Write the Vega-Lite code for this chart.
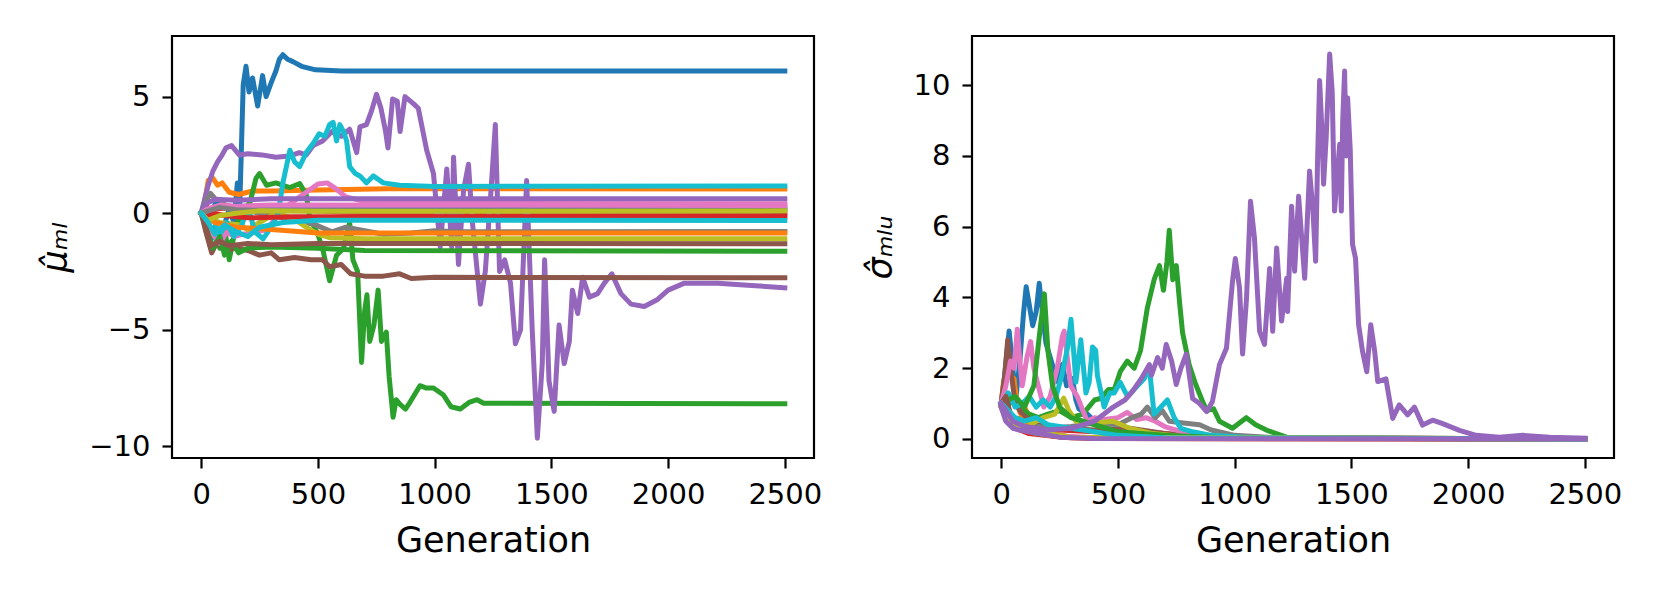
{
  "$schema": "https://vega.github.io/schema/vega-lite/v6.json",
  "background": "white",
  "padding": {"left": 37, "top": 34, "right": 40, "bottom": 10},
  "spacing": 158,
  "bounds": "flush",
  "config": {
    "view": {"stroke": "black", "strokeWidth": 2.2},
    "font": "DejaVu Sans",
    "axis": {
      "grid": false,
      "domain": false,
      "tickColor": "black",
      "tickWidth": 2.2,
      "tickSize": 10,
      "labelFont": "DejaVu Sans",
      "labelFontSize": 29,
      "labelColor": "black",
      "labelPadding": 12,
      "titleFont": "DejaVu Sans",
      "titleFontSize": 35,
      "titleFontWeight": "normal",
      "titleColor": "black"
    }
  },
  "datasets": {
    "mu": [
      {"r":"r00","g":0,"v":0},{"r":"r00","g":20,"v":-0.3},{"r":"r00","g":40,"v":-1.2},{"r":"r00","g":60,"v":-0.6},{"r":"r00","g":80,"v":-1.3},{"r":"r00","g":100,"v":-0.5},{"r":"r00","g":120,"v":0.2},{"r":"r00","g":140,"v":-0.4},{"r":"r00","g":155,"v":1.3},{"r":"r00","g":165,"v":0.2},{"r":"r00","g":180,"v":5.5},{"r":"r00","g":192,"v":6.3},{"r":"r00","g":205,"v":5.2},{"r":"r00","g":220,"v":5.8},{"r":"r00","g":242,"v":4.6},{"r":"r00","g":263,"v":5.9},{"r":"r00","g":278,"v":5.0},{"r":"r00","g":300,"v":5.6},{"r":"r00","g":320,"v":6.1},{"r":"r00","g":335,"v":6.6},{"r":"r00","g":350,"v":6.8},{"r":"r00","g":370,"v":6.6},{"r":"r00","g":393,"v":6.5},{"r":"r00","g":430,"v":6.3},{"r":"r00","g":490,"v":6.15},{"r":"r00","g":600,"v":6.1},{"r":"r00","g":2500,"v":6.1},
      {"r":"r01","g":0,"v":0},{"r":"r01","g":15,"v":0.5},{"r":"r01","g":30,"v":1.4},{"r":"r01","g":50,"v":1.5},{"r":"r01","g":70,"v":1.2},{"r":"r01","g":90,"v":1.3},{"r":"r01","g":120,"v":0.9},{"r":"r01","g":160,"v":0.8},{"r":"r01","g":220,"v":0.95},{"r":"r01","g":300,"v":0.95},{"r":"r01","g":500,"v":1.0},{"r":"r01","g":800,"v":1.05},{"r":"r01","g":2500,"v":1.04},
      {"r":"r02","g":0,"v":0},{"r":"r02","g":20,"v":-0.4},{"r":"r02","g":50,"v":-0.8},{"r":"r02","g":80,"v":-1.5},{"r":"r02","g":100,"v":-0.6},{"r":"r02","g":120,"v":-2.0},{"r":"r02","g":140,"v":-1.0},{"r":"r02","g":160,"v":-0.3},{"r":"r02","g":190,"v":0.2},{"r":"r02","g":210,"v":0.5},{"r":"r02","g":235,"v":1.5},{"r":"r02","g":250,"v":1.7},{"r":"r02","g":280,"v":1.2},{"r":"r02","g":320,"v":1.3},{"r":"r02","g":380,"v":1.1},{"r":"r02","g":422,"v":1.27},{"r":"r02","g":450,"v":0.8},{"r":"r02","g":465,"v":-0.2},{"r":"r02","g":500,"v":-0.9},{"r":"r02","g":522,"v":-1.6},{"r":"r02","g":550,"v":-2.9},{"r":"r02","g":580,"v":-1.8},{"r":"r02","g":610,"v":-1.5},{"r":"r02","g":636,"v":-0.4},{"r":"r02","g":650,"v":-2.0},{"r":"r02","g":670,"v":-2.5},{"r":"r02","g":687,"v":-6.4},{"r":"r02","g":700,"v":-4.2},{"r":"r02","g":710,"v":-3.5},{"r":"r02","g":722,"v":-5.5},{"r":"r02","g":740,"v":-4.8},{"r":"r02","g":758,"v":-3.3},{"r":"r02","g":772,"v":-5.5},{"r":"r02","g":793,"v":-5.1},{"r":"r02","g":805,"v":-7.0},{"r":"r02","g":822,"v":-8.75},{"r":"r02","g":835,"v":-8.0},{"r":"r02","g":852,"v":-8.2},{"r":"r02","g":875,"v":-8.4},{"r":"r02","g":895,"v":-8.1},{"r":"r02","g":937,"v":-7.4},{"r":"r02","g":965,"v":-7.5},{"r":"r02","g":995,"v":-7.5},{"r":"r02","g":1038,"v":-7.8},{"r":"r02","g":1070,"v":-8.3},{"r":"r02","g":1110,"v":-8.4},{"r":"r02","g":1150,"v":-8.1},{"r":"r02","g":1182,"v":-8.0},{"r":"r02","g":1210,"v":-8.15},{"r":"r02","g":2500,"v":-8.17},
      {"r":"r03","g":0,"v":0},{"r":"r03","g":20,"v":0.3},{"r":"r03","g":40,"v":0.15},{"r":"r03","g":80,"v":0.2},{"r":"r03","g":150,"v":0.25},{"r":"r03","g":250,"v":0.2},{"r":"r03","g":400,"v":0.15},{"r":"r03","g":600,"v":0.05},{"r":"r03","g":900,"v":-0.02},{"r":"r03","g":2500,"v":-0.05},
      {"r":"r04","g":0,"v":0},{"r":"r04","g":15,"v":0.6},{"r":"r04","g":30,"v":1.2},{"r":"r04","g":50,"v":1.8},{"r":"r04","g":70,"v":2.2},{"r":"r04","g":90,"v":2.5},{"r":"r04","g":106,"v":2.8},{"r":"r04","g":130,"v":2.9},{"r":"r04","g":163,"v":2.5},{"r":"r04","g":200,"v":2.55},{"r":"r04","g":260,"v":2.5},{"r":"r04","g":320,"v":2.4},{"r":"r04","g":378,"v":2.45},{"r":"r04","g":420,"v":2.6},{"r":"r04","g":450,"v":2.5},{"r":"r04","g":480,"v":2.9},{"r":"r04","g":520,"v":3.1},{"r":"r04","g":560,"v":3.5},{"r":"r04","g":600,"v":3.3},{"r":"r04","g":636,"v":3.6},{"r":"r04","g":666,"v":2.6},{"r":"r04","g":680,"v":3.7},{"r":"r04","g":708,"v":3.8},{"r":"r04","g":730,"v":4.4},{"r":"r04","g":751,"v":5.1},{"r":"r04","g":770,"v":4.5},{"r":"r04","g":790,"v":3.5},{"r":"r04","g":800,"v":2.8},{"r":"r04","g":820,"v":4.9},{"r":"r04","g":840,"v":4.8},{"r":"r04","g":852,"v":3.5},{"r":"r04","g":873,"v":5.0},{"r":"r04","g":909,"v":4.7},{"r":"r04","g":930,"v":4.5},{"r":"r04","g":966,"v":2.7},{"r":"r04","g":995,"v":1.7},{"r":"r04","g":1024,"v":-1.45},{"r":"r04","g":1052,"v":1.9},{"r":"r04","g":1073,"v":-1.45},{"r":"r04","g":1081,"v":2.4},{"r":"r04","g":1102,"v":-2.2},{"r":"r04","g":1124,"v":1.0},{"r":"r04","g":1145,"v":2.1},{"r":"r04","g":1160,"v":-0.2},{"r":"r04","g":1196,"v":-3.9},{"r":"r04","g":1217,"v":-2.5},{"r":"r04","g":1239,"v":0.6},{"r":"r04","g":1260,"v":3.8},{"r":"r04","g":1278,"v":-2.5},{"r":"r04","g":1300,"v":-2.0},{"r":"r04","g":1325,"v":-3.0},{"r":"r04","g":1346,"v":-5.6},{"r":"r04","g":1368,"v":-5.0},{"r":"r04","g":1394,"v":1.4},{"r":"r04","g":1418,"v":-5.0},{"r":"r04","g":1440,"v":-9.65},{"r":"r04","g":1461,"v":-6.45},{"r":"r04","g":1471,"v":-2.0},{"r":"r04","g":1490,"v":-7.2},{"r":"r04","g":1512,"v":-8.5},{"r":"r04","g":1533,"v":-4.8},{"r":"r04","g":1555,"v":-6.45},{"r":"r04","g":1577,"v":-5.5},{"r":"r04","g":1590,"v":-3.3},{"r":"r04","g":1613,"v":-4.3},{"r":"r04","g":1634,"v":-2.75},{"r":"r04","g":1663,"v":-3.6},{"r":"r04","g":1698,"v":-3.45},{"r":"r04","g":1727,"v":-3.0},{"r":"r04","g":1759,"v":-2.6},{"r":"r04","g":1798,"v":-3.45},{"r":"r04","g":1841,"v":-3.9},{"r":"r04","g":1898,"v":-4.0},{"r":"r04","g":1955,"v":-3.7},{"r":"r04","g":2000,"v":-3.3},{"r":"r04","g":2070,"v":-3.0},{"r":"r04","g":2213,"v":-3.0},{"r":"r04","g":2357,"v":-3.1},{"r":"r04","g":2500,"v":-3.2},
      {"r":"r05","g":0,"v":0},{"r":"r05","g":20,"v":-0.8},{"r":"r05","g":45,"v":-1.7},{"r":"r05","g":70,"v":-1.2},{"r":"r05","g":100,"v":-1.6},{"r":"r05","g":150,"v":-1.5},{"r":"r05","g":200,"v":-1.6},{"r":"r05","g":250,"v":-1.8},{"r":"r05","g":300,"v":-1.7},{"r":"r05","g":335,"v":-2.0},{"r":"r05","g":400,"v":-1.9},{"r":"r05","g":470,"v":-2.0},{"r":"r05","g":520,"v":-2.0},{"r":"r05","g":550,"v":-2.3},{"r":"r05","g":600,"v":-2.2},{"r":"r05","g":640,"v":-2.6},{"r":"r05","g":700,"v":-2.7},{"r":"r05","g":780,"v":-2.7},{"r":"r05","g":850,"v":-2.6},{"r":"r05","g":900,"v":-2.8},{"r":"r05","g":1000,"v":-2.75},{"r":"r05","g":2500,"v":-2.77},
      {"r":"r06","g":0,"v":0},{"r":"r06","g":20,"v":-0.5},{"r":"r06","g":50,"v":-0.9},{"r":"r06","g":80,"v":-1.3},{"r":"r06","g":110,"v":-0.8},{"r":"r06","g":140,"v":-1.0},{"r":"r06","g":180,"v":-0.9},{"r":"r06","g":240,"v":-0.8},{"r":"r06","g":280,"v":-0.7},{"r":"r06","g":320,"v":-0.2},{"r":"r06","g":380,"v":0.4},{"r":"r06","g":450,"v":0.9},{"r":"r06","g":500,"v":1.25},{"r":"r06","g":540,"v":1.3},{"r":"r06","g":570,"v":1.1},{"r":"r06","g":620,"v":0.7},{"r":"r06","g":700,"v":0.5},{"r":"r06","g":800,"v":0.42},{"r":"r06","g":2500,"v":0.4},
      {"r":"r07","g":0,"v":0},{"r":"r07","g":20,"v":0.5},{"r":"r07","g":40,"v":0.85},{"r":"r07","g":70,"v":0.5},{"r":"r07","g":120,"v":0.3},{"r":"r07","g":200,"v":0.1},{"r":"r07","g":300,"v":-0.1},{"r":"r07","g":400,"v":-0.3},{"r":"r07","g":490,"v":-0.5},{"r":"r07","g":560,"v":-0.8},{"r":"r07","g":620,"v":-0.6},{"r":"r07","g":700,"v":-0.75},{"r":"r07","g":780,"v":-0.9},{"r":"r07","g":900,"v":-0.85},{"r":"r07","g":1000,"v":-0.75},{"r":"r07","g":1100,"v":-0.8},{"r":"r07","g":2500,"v":-0.78},
      {"r":"r08","g":0,"v":0},{"r":"r08","g":30,"v":-0.2},{"r":"r08","g":80,"v":-0.4},{"r":"r08","g":160,"v":-0.5},{"r":"r08","g":200,"v":-0.7},{"r":"r08","g":250,"v":-0.4},{"r":"r08","g":320,"v":0.0},{"r":"r08","g":390,"v":-0.2},{"r":"r08","g":450,"v":-0.6},{"r":"r08","g":500,"v":-0.9},{"r":"r08","g":550,"v":-1.05},{"r":"r08","g":700,"v":-1.1},{"r":"r08","g":2500,"v":-1.1},
      {"r":"r09","g":0,"v":0},{"r":"r09","g":20,"v":-0.5},{"r":"r09","g":50,"v":-0.2},{"r":"r09","g":80,"v":-0.9},{"r":"r09","g":110,"v":-0.4},{"r":"r09","g":140,"v":-1.0},{"r":"r09","g":175,"v":-0.5},{"r":"r09","g":200,"v":0.3},{"r":"r09","g":230,"v":-0.8},{"r":"r09","g":265,"v":-1.1},{"r":"r09","g":300,"v":-0.6},{"r":"r09","g":330,"v":0.0},{"r":"r09","g":350,"v":1.3},{"r":"r09","g":365,"v":2.0},{"r":"r09","g":380,"v":2.7},{"r":"r09","g":400,"v":2.2},{"r":"r09","g":422,"v":2.0},{"r":"r09","g":450,"v":2.6},{"r":"r09","g":480,"v":3.0},{"r":"r09","g":505,"v":3.4},{"r":"r09","g":530,"v":3.3},{"r":"r09","g":550,"v":3.8},{"r":"r09","g":565,"v":3.9},{"r":"r09","g":580,"v":3.1},{"r":"r09","g":594,"v":3.8},{"r":"r09","g":610,"v":3.5},{"r":"r09","g":623,"v":3.1},{"r":"r09","g":636,"v":2.0},{"r":"r09","g":660,"v":1.7},{"r":"r09","g":680,"v":1.6},{"r":"r09","g":708,"v":1.3},{"r":"r09","g":737,"v":1.6},{"r":"r09","g":780,"v":1.3},{"r":"r09","g":850,"v":1.2},{"r":"r09","g":1000,"v":1.15},{"r":"r09","g":2500,"v":1.17},
      {"r":"r10","g":0,"v":0},{"r":"r10","g":15,"v":0.3},{"r":"r10","g":35,"v":-0.2},{"r":"r10","g":60,"v":0.4},{"r":"r10","g":100,"v":0.3},{"r":"r10","g":200,"v":0.25},{"r":"r10","g":400,"v":0.2},{"r":"r10","g":2500,"v":0.2},
      {"r":"r11","g":0,"v":0},{"r":"r11","g":20,"v":-0.2},{"r":"r11","g":60,"v":-0.4},{"r":"r11","g":150,"v":-0.6},{"r":"r11","g":300,"v":-0.7},{"r":"r11","g":500,"v":-0.85},{"r":"r11","g":800,"v":-0.85},{"r":"r11","g":2500,"v":-0.85},
      {"r":"r12","g":0,"v":0},{"r":"r12","g":20,"v":-0.6},{"r":"r12","g":50,"v":-1.5},{"r":"r12","g":80,"v":-1.0},{"r":"r12","g":100,"v":-1.8},{"r":"r12","g":130,"v":-1.2},{"r":"r12","g":160,"v":-1.7},{"r":"r12","g":200,"v":-1.5},{"r":"r12","g":300,"v":-1.45},{"r":"r12","g":500,"v":-1.5},{"r":"r12","g":700,"v":-1.6},{"r":"r12","g":2500,"v":-1.63},
      {"r":"r13","g":0,"v":0},{"r":"r13","g":20,"v":-0.2},{"r":"r13","g":50,"v":0.0},{"r":"r13","g":100,"v":-0.1},{"r":"r13","g":200,"v":-0.2},{"r":"r13","g":400,"v":-0.15},{"r":"r13","g":2500,"v":-0.15},
      {"r":"r14","g":0,"v":0},{"r":"r14","g":20,"v":0.4},{"r":"r14","g":60,"v":0.6},{"r":"r14","g":150,"v":0.55},{"r":"r14","g":300,"v":0.62},{"r":"r14","g":2500,"v":0.62},
      {"r":"r15","g":0,"v":0},{"r":"r15","g":20,"v":-0.6},{"r":"r15","g":40,"v":-1.4},{"r":"r15","g":80,"v":-1.2},{"r":"r15","g":120,"v":-1.4},{"r":"r15","g":200,"v":-1.3},{"r":"r15","g":300,"v":-1.35},{"r":"r15","g":500,"v":-1.3},{"r":"r15","g":2500,"v":-1.31},
      {"r":"r16","g":0,"v":0},{"r":"r16","g":30,"v":0.2},{"r":"r16","g":80,"v":0.35},{"r":"r16","g":150,"v":0.3},{"r":"r16","g":300,"v":0.35},{"r":"r16","g":2500,"v":0.33},
      {"r":"r17","g":0,"v":0},{"r":"r17","g":30,"v":0.1},{"r":"r17","g":80,"v":0.25},{"r":"r17","g":150,"v":0.15},{"r":"r17","g":300,"v":0.1},{"r":"r17","g":2500,"v":0.1},
      {"r":"r18","g":0,"v":0},{"r":"r18","g":30,"v":-0.3},{"r":"r18","g":80,"v":-0.1},{"r":"r18","g":150,"v":0.0},{"r":"r18","g":250,"v":0.1},{"r":"r18","g":500,"v":0.08},{"r":"r18","g":2500,"v":0.1},
      {"r":"r19","g":0,"v":0},{"r":"r19","g":30,"v":-0.4},{"r":"r19","g":60,"v":-0.9},{"r":"r19","g":100,"v":-0.5},{"r":"r19","g":150,"v":-0.8},{"r":"r19","g":200,"v":-1.0},{"r":"r19","g":250,"v":-0.6},{"r":"r19","g":350,"v":-0.4},{"r":"r19","g":500,"v":-0.3},{"r":"r19","g":2500,"v":-0.31}
    ],
    "sigma": [
      {"r":"r00","g":0,"v":1.0},{"r":"r00","g":15,"v":1.8},{"r":"r00","g":34,"v":3.05},{"r":"r00","g":50,"v":2.0},{"r":"r00","g":62,"v":1.1},{"r":"r00","g":80,"v":2.2},{"r":"r00","g":95,"v":3.5},{"r":"r00","g":107,"v":4.3},{"r":"r00","g":120,"v":3.8},{"r":"r00","g":135,"v":3.2},{"r":"r00","g":150,"v":3.6},{"r":"r00","g":163,"v":4.4},{"r":"r00","g":178,"v":3.5},{"r":"r00","g":192,"v":2.7},{"r":"r00","g":210,"v":2.3},{"r":"r00","g":228,"v":1.9},{"r":"r00","g":245,"v":1.6},{"r":"r00","g":262,"v":2.1},{"r":"r00","g":280,"v":1.5},{"r":"r00","g":305,"v":1.7},{"r":"r00","g":320,"v":1.1},{"r":"r00","g":333,"v":0.85},{"r":"r00","g":370,"v":0.7},{"r":"r00","g":400,"v":0.5},{"r":"r00","g":450,"v":0.3},{"r":"r00","g":550,"v":0.15},{"r":"r00","g":700,"v":0.05},{"r":"r00","g":900,"v":0.01},{"r":"r00","g":2500,"v":0},
      {"r":"r01","g":0,"v":1.0},{"r":"r01","g":10,"v":1.6},{"r":"r01","g":25,"v":1.9},{"r":"r01","g":40,"v":1.8},{"r":"r01","g":55,"v":1.7},{"r":"r01","g":64,"v":1.2},{"r":"r01","g":80,"v":0.75},{"r":"r01","g":100,"v":0.9},{"r":"r01","g":130,"v":0.5},{"r":"r01","g":170,"v":0.4},{"r":"r01","g":220,"v":0.15},{"r":"r01","g":300,"v":0.05},{"r":"r01","g":500,"v":0.01},{"r":"r01","g":2500,"v":0},
      {"r":"r02","g":0,"v":1.0},{"r":"r02","g":20,"v":0.8},{"r":"r02","g":50,"v":1.2},{"r":"r02","g":80,"v":0.9},{"r":"r02","g":120,"v":0.7},{"r":"r02","g":160,"v":0.6},{"r":"r02","g":200,"v":0.7},{"r":"r02","g":250,"v":0.8},{"r":"r02","g":300,"v":0.6},{"r":"r02","g":350,"v":0.7},{"r":"r02","g":400,"v":1.1},{"r":"r02","g":428,"v":1.15},{"r":"r02","g":460,"v":1.4},{"r":"r02","g":485,"v":1.4},{"r":"r02","g":510,"v":1.9},{"r":"r02","g":540,"v":2.2},{"r":"r02","g":570,"v":2.0},{"r":"r02","g":597,"v":2.5},{"r":"r02","g":626,"v":3.7},{"r":"r02","g":655,"v":4.5},{"r":"r02","g":678,"v":4.9},{"r":"r02","g":695,"v":4.2},{"r":"r02","g":710,"v":5.0},{"r":"r02","g":720,"v":5.9},{"r":"r02","g":735,"v":4.5},{"r":"r02","g":750,"v":4.9},{"r":"r02","g":765,"v":3.8},{"r":"r02","g":777,"v":3.0},{"r":"r02","g":805,"v":2.1},{"r":"r02","g":830,"v":1.6},{"r":"r02","g":860,"v":1.1},{"r":"r02","g":880,"v":0.8},{"r":"r02","g":910,"v":0.85},{"r":"r02","g":935,"v":0.5},{"r":"r02","g":991,"v":0.3},{"r":"r02","g":1050,"v":0.6},{"r":"r02","g":1090,"v":0.4},{"r":"r02","g":1136,"v":0.25},{"r":"r02","g":1222,"v":0.05},{"r":"r02","g":1400,"v":0.02},{"r":"r02","g":2500,"v":0},
      {"r":"r03","g":0,"v":1.0},{"r":"r03","g":20,"v":0.6},{"r":"r03","g":40,"v":0.4},{"r":"r03","g":80,"v":0.3},{"r":"r03","g":150,"v":0.35},{"r":"r03","g":250,"v":0.25},{"r":"r03","g":400,"v":0.2},{"r":"r03","g":550,"v":0.25},{"r":"r03","g":700,"v":0.15},{"r":"r03","g":850,"v":0.05},{"r":"r03","g":1000,"v":0.01},{"r":"r03","g":2500,"v":0},
      {"r":"r05","g":0,"v":1.0},{"r":"r05","g":15,"v":1.8},{"r":"r05","g":28,"v":2.8},{"r":"r05","g":40,"v":2.0},{"r":"r05","g":60,"v":1.0},{"r":"r05","g":90,"v":0.7},{"r":"r05","g":150,"v":0.4},{"r":"r05","g":250,"v":0.3},{"r":"r05","g":400,"v":0.25},{"r":"r05","g":550,"v":0.3},{"r":"r05","g":700,"v":0.15},{"r":"r05","g":900,"v":0.05},{"r":"r05","g":1200,"v":0.01},{"r":"r05","g":2500,"v":0},
      {"r":"r06","g":0,"v":1.0},{"r":"r06","g":20,"v":1.5},{"r":"r06","g":40,"v":2.2},{"r":"r06","g":55,"v":2.0},{"r":"r06","g":69,"v":3.1},{"r":"r06","g":80,"v":2.2},{"r":"r06","g":90,"v":1.5},{"r":"r06","g":110,"v":2.3},{"r":"r06","g":126,"v":2.75},{"r":"r06","g":140,"v":2.0},{"r":"r06","g":155,"v":1.6},{"r":"r06","g":183,"v":0.9},{"r":"r06","g":210,"v":1.2},{"r":"r06","g":240,"v":2.0},{"r":"r06","g":262,"v":2.9},{"r":"r06","g":270,"v":3.05},{"r":"r06","g":285,"v":2.2},{"r":"r06","g":298,"v":1.5},{"r":"r06","g":326,"v":1.2},{"r":"r06","g":350,"v":0.8},{"r":"r06","g":369,"v":0.5},{"r":"r06","g":400,"v":0.6},{"r":"r06","g":440,"v":0.55},{"r":"r06","g":500,"v":0.6},{"r":"r06","g":540,"v":0.75},{"r":"r06","g":580,"v":0.55},{"r":"r06","g":620,"v":0.6},{"r":"r06","g":660,"v":0.5},{"r":"r06","g":700,"v":0.35},{"r":"r06","g":800,"v":0.15},{"r":"r06","g":1000,"v":0.03},{"r":"r06","g":2500,"v":0},
      {"r":"r07","g":0,"v":1.0},{"r":"r07","g":20,"v":0.8},{"r":"r07","g":60,"v":0.5},{"r":"r07","g":120,"v":0.4},{"r":"r07","g":200,"v":0.3},{"r":"r07","g":300,"v":0.35},{"r":"r07","g":400,"v":0.45},{"r":"r07","g":500,"v":0.4},{"r":"r07","g":560,"v":0.6},{"r":"r07","g":600,"v":0.7},{"r":"r07","g":626,"v":0.9},{"r":"r07","g":660,"v":0.6},{"r":"r07","g":690,"v":0.8},{"r":"r07","g":720,"v":0.5},{"r":"r07","g":780,"v":0.45},{"r":"r07","g":850,"v":0.4},{"r":"r07","g":900,"v":0.25},{"r":"r07","g":1000,"v":0.1},{"r":"r07","g":1200,"v":0.02},{"r":"r07","g":2500,"v":0},
      {"r":"r08","g":0,"v":1.0},{"r":"r08","g":20,"v":0.7},{"r":"r08","g":60,"v":0.5},{"r":"r08","g":120,"v":0.4},{"r":"r08","g":180,"v":0.6},{"r":"r08","g":230,"v":0.7},{"r":"r08","g":268,"v":1.15},{"r":"r08","g":290,"v":0.8},{"r":"r08","g":320,"v":0.5},{"r":"r08","g":400,"v":0.45},{"r":"r08","g":480,"v":0.5},{"r":"r08","g":550,"v":0.3},{"r":"r08","g":650,"v":0.15},{"r":"r08","g":800,"v":0.05},{"r":"r08","g":2500,"v":0},
      {"r":"r09","g":0,"v":1.0},{"r":"r09","g":30,"v":1.3},{"r":"r09","g":60,"v":0.9},{"r":"r09","g":90,"v":1.0},{"r":"r09","g":120,"v":1.2},{"r":"r09","g":150,"v":0.9},{"r":"r09","g":180,"v":1.1},{"r":"r09","g":210,"v":0.9},{"r":"r09","g":235,"v":1.2},{"r":"r09","g":260,"v":1.8},{"r":"r09","g":285,"v":2.6},{"r":"r09","g":299,"v":3.38},{"r":"r09","g":310,"v":2.5},{"r":"r09","g":320,"v":1.6},{"r":"r09","g":341,"v":2.8},{"r":"r09","g":363,"v":1.3},{"r":"r09","g":377,"v":1.6},{"r":"r09","g":391,"v":2.6},{"r":"r09","g":405,"v":2.5},{"r":"r09","g":412,"v":1.8},{"r":"r09","g":441,"v":0.9},{"r":"r09","g":465,"v":1.3},{"r":"r09","g":484,"v":1.3},{"r":"r09","g":510,"v":1.6},{"r":"r09","g":541,"v":1.2},{"r":"r09","g":584,"v":1.5},{"r":"r09","g":612,"v":1.7},{"r":"r09","g":635,"v":2.0},{"r":"r09","g":655,"v":0.7},{"r":"r09","g":684,"v":0.9},{"r":"r09","g":712,"v":1.1},{"r":"r09","g":741,"v":0.6},{"r":"r09","g":770,"v":0.3},{"r":"r09","g":820,"v":0.2},{"r":"r09","g":900,"v":0.1},{"r":"r09","g":1100,"v":0.02},{"r":"r09","g":2500,"v":0},
      {"r":"r10","g":0,"v":1.0},{"r":"r10","g":20,"v":0.6},{"r":"r10","g":50,"v":0.5},{"r":"r10","g":80,"v":0.3},{"r":"r10","g":150,"v":0.15},{"r":"r10","g":300,"v":0.05},{"r":"r10","g":2500,"v":0},
      {"r":"r11","g":0,"v":1.0},{"r":"r11","g":20,"v":0.8},{"r":"r11","g":50,"v":0.5},{"r":"r11","g":80,"v":0.6},{"r":"r11","g":120,"v":0.3},{"r":"r11","g":200,"v":0.1},{"r":"r11","g":300,"v":0.03},{"r":"r11","g":2500,"v":0},
      {"r":"r12","g":0,"v":1.0},{"r":"r12","g":30,"v":1.1},{"r":"r12","g":60,"v":1.2},{"r":"r12","g":100,"v":0.9},{"r":"r12","g":140,"v":1.5},{"r":"r12","g":165,"v":3.0},{"r":"r12","g":185,"v":4.1},{"r":"r12","g":200,"v":2.5},{"r":"r12","g":220,"v":1.5},{"r":"r12","g":250,"v":0.9},{"r":"r12","g":300,"v":0.6},{"r":"r12","g":400,"v":0.4},{"r":"r12","g":500,"v":0.2},{"r":"r12","g":700,"v":0.1},{"r":"r12","g":1000,"v":0.02},{"r":"r12","g":2500,"v":0},
      {"r":"r13","g":0,"v":0.9},{"r":"r13","g":25,"v":0.5},{"r":"r13","g":60,"v":0.3},{"r":"r13","g":120,"v":0.15},{"r":"r13","g":250,"v":0.05},{"r":"r13","g":400,"v":0.01},{"r":"r13","g":2500,"v":0},
      {"r":"r15","g":0,"v":1.0},{"r":"r15","g":20,"v":1.2},{"r":"r15","g":40,"v":0.7},{"r":"r15","g":80,"v":0.4},{"r":"r15","g":150,"v":0.2},{"r":"r15","g":300,"v":0.05},{"r":"r15","g":2500,"v":0},
      {"r":"r16","g":0,"v":1.0},{"r":"r16","g":20,"v":0.7},{"r":"r16","g":50,"v":0.4},{"r":"r16","g":100,"v":0.25},{"r":"r16","g":200,"v":0.1},{"r":"r16","g":400,"v":0.03},{"r":"r16","g":2500,"v":0},
      {"r":"r17","g":0,"v":0.9},{"r":"r17","g":30,"v":0.5},{"r":"r17","g":80,"v":0.3},{"r":"r17","g":150,"v":0.15},{"r":"r17","g":300,"v":0.04},{"r":"r17","g":2500,"v":0},
      {"r":"r18","g":0,"v":0.9},{"r":"r18","g":30,"v":0.6},{"r":"r18","g":80,"v":0.35},{"r":"r18","g":150,"v":0.2},{"r":"r18","g":300,"v":0.05},{"r":"r18","g":2500,"v":0},
      {"r":"r19","g":0,"v":1.0},{"r":"r19","g":30,"v":0.8},{"r":"r19","g":60,"v":0.6},{"r":"r19","g":100,"v":0.5},{"r":"r19","g":150,"v":0.6},{"r":"r19","g":200,"v":0.4},{"r":"r19","g":300,"v":0.3},{"r":"r19","g":400,"v":0.2},{"r":"r19","g":500,"v":0.1},{"r":"r19","g":700,"v":0.03},{"r":"r19","g":2500,"v":0},
      {"r":"r04","g":0,"v":1.0},{"r":"r04","g":20,"v":0.8},{"r":"r04","g":50,"v":0.5},{"r":"r04","g":100,"v":0.35},{"r":"r04","g":150,"v":0.3},{"r":"r04","g":200,"v":0.25},{"r":"r04","g":300,"v":0.3},{"r":"r04","g":400,"v":0.5},{"r":"r04","g":480,"v":0.9},{"r":"r04","g":530,"v":1.1},{"r":"r04","g":562,"v":1.34},{"r":"r04","g":600,"v":1.7},{"r":"r04","g":635,"v":2.1},{"r":"r04","g":644,"v":1.8},{"r":"r04","g":670,"v":2.3},{"r":"r04","g":690,"v":2.0},{"r":"r04","g":707,"v":2.67},{"r":"r04","g":730,"v":2.2},{"r":"r04","g":750,"v":1.54},{"r":"r04","g":770,"v":2.0},{"r":"r04","g":793,"v":2.4},{"r":"r04","g":820,"v":1.14},{"r":"r04","g":850,"v":1.0},{"r":"r04","g":880,"v":0.77},{"r":"r04","g":905,"v":1.06},{"r":"r04","g":935,"v":2.1},{"r":"r04","g":965,"v":2.56},{"r":"r04","g":991,"v":4.46},{"r":"r04","g":1003,"v":5.1},{"r":"r04","g":1021,"v":4.26},{"r":"r04","g":1034,"v":2.4},{"r":"r04","g":1051,"v":3.98},{"r":"r04","g":1068,"v":6.72},{"r":"r04","g":1085,"v":5.67},{"r":"r04","g":1107,"v":3.04},{"r":"r04","g":1128,"v":2.67},{"r":"r04","g":1150,"v":4.82},{"r":"r04","g":1163,"v":3.04},{"r":"r04","g":1180,"v":5.4},{"r":"r04","g":1201,"v":3.33},{"r":"r04","g":1223,"v":4.54},{"r":"r04","g":1227,"v":3.6},{"r":"r04","g":1244,"v":6.58},{"r":"r04","g":1257,"v":4.74},{"r":"r04","g":1274,"v":6.86},{"r":"r04","g":1300,"v":4.54},{"r":"r04","g":1310,"v":6.0},{"r":"r04","g":1321,"v":7.57},{"r":"r04","g":1335,"v":6.5},{"r":"r04","g":1347,"v":5.02},{"r":"r04","g":1355,"v":7.8},{"r":"r04","g":1364,"v":10.13},{"r":"r04","g":1372,"v":9.0},{"r":"r04","g":1381,"v":7.2},{"r":"r04","g":1392,"v":8.5},{"r":"r04","g":1407,"v":10.88},{"r":"r04","g":1418,"v":9.8},{"r":"r04","g":1428,"v":6.44},{"r":"r04","g":1440,"v":7.5},{"r":"r04","g":1450,"v":8.33},{"r":"r04","g":1457,"v":6.44},{"r":"r04","g":1463,"v":9.0},{"r":"r04","g":1471,"v":10.4},{"r":"r04","g":1478,"v":8.0},{"r":"r04","g":1484,"v":9.64},{"r":"r04","g":1495,"v":8.2},{"r":"r04","g":1505,"v":5.5},{"r":"r04","g":1518,"v":5.1},{"r":"r04","g":1531,"v":3.23},{"r":"r04","g":1548,"v":2.47},{"r":"r04","g":1566,"v":1.9},{"r":"r04","g":1583,"v":3.23},{"r":"r04","g":1600,"v":2.47},{"r":"r04","g":1613,"v":1.62},{"r":"r04","g":1648,"v":1.7},{"r":"r04","g":1677,"v":0.58},{"r":"r04","g":1705,"v":0.96},{"r":"r04","g":1741,"v":0.68},{"r":"r04","g":1770,"v":0.9},{"r":"r04","g":1805,"v":0.39},{"r":"r04","g":1848,"v":0.53},{"r":"r04","g":1891,"v":0.43},{"r":"r04","g":1963,"v":0.24},{"r":"r04","g":2034,"v":0.1},{"r":"r04","g":2134,"v":0.05},{"r":"r04","g":2234,"v":0.1},{"r":"r04","g":2349,"v":0.05},{"r":"r04","g":2500,"v":0.02},
      {"r":"r14","g":0,"v":0.9},{"r":"r14","g":20,"v":0.5},{"r":"r14","g":50,"v":0.3},{"r":"r14","g":80,"v":0.25},{"r":"r14","g":120,"v":0.2},{"r":"r14","g":170,"v":0.15},{"r":"r14","g":250,"v":0.05},{"r":"r14","g":400,"v":0.01},{"r":"r14","g":2500,"v":0}
    ]
  },
  "hconcat": [
    {
      "width": 642,
      "height": 422,
      "data": {"name": "mu"},
      "mark": {"type": "line", "strokeWidth": 5, "strokeJoin": "round", "strokeCap": "square"},
      "encoding": {
        "x": {
          "field": "g",
          "type": "quantitative",
          "scale": {"domain": [-125, 2625], "nice": false, "zero": false},
          "axis": {"values": [0, 500, 1000, 1500, 2000, 2500], "format": "d", "title": "Generation", "titlePadding": 14}
        },
        "y": {
          "field": "v",
          "type": "quantitative",
          "scale": {"domain": [-10.5, 7.6], "nice": false, "zero": false},
          "axis": {"values": [-10, -5, 0, 5], "format": "d", "title": "μ̂ₘₗ", "titleFontStyle": "italic", "titlePadding": 15}
        },
        "color": {
          "field": "r",
          "type": "nominal",
          "legend": null,
          "scale": {
            "domain": ["r00","r01","r02","r03","r04","r05","r06","r07","r08","r09","r10","r11","r12","r13","r14","r15","r16","r17","r18","r19"],
            "range": ["#1f77b4","#ff7f0e","#2ca02c","#d62728","#9467bd","#8c564b","#e377c2","#7f7f7f","#bcbd22","#17becf","#1f77b4","#ff7f0e","#2ca02c","#d62728","#9467bd","#8c564b","#e377c2","#7f7f7f","#bcbd22","#17becf"]
          }
        }
      }
    },
    {
      "width": 642,
      "height": 422,
      "data": {"name": "sigma"},
      "mark": {"type": "line", "strokeWidth": 5, "strokeJoin": "round", "strokeCap": "square"},
      "encoding": {
        "x": {
          "field": "g",
          "type": "quantitative",
          "scale": {"domain": [-125, 2625], "nice": false, "zero": false},
          "axis": {"values": [0, 500, 1000, 1500, 2000, 2500], "format": "d", "title": "Generation", "titlePadding": 14}
        },
        "y": {
          "field": "v",
          "type": "quantitative",
          "scale": {"domain": [-0.54, 11.39], "nice": false, "zero": false},
          "axis": {"values": [0, 2, 4, 6, 8, 10], "format": "d", "title": "σ̂ₘₗᵤ", "titleFontStyle": "italic", "titlePadding": 15}
        },
        "color": {
          "field": "r",
          "type": "nominal",
          "legend": null,
          "scale": {
            "domain": ["r00","r01","r02","r03","r04","r05","r06","r07","r08","r09","r10","r11","r12","r13","r14","r15","r16","r17","r18","r19"],
            "range": ["#1f77b4","#ff7f0e","#2ca02c","#d62728","#9467bd","#8c564b","#e377c2","#7f7f7f","#bcbd22","#17becf","#1f77b4","#ff7f0e","#2ca02c","#d62728","#9467bd","#8c564b","#e377c2","#7f7f7f","#bcbd22","#17becf"]
          }
        }
      }
    }
  ]
}
